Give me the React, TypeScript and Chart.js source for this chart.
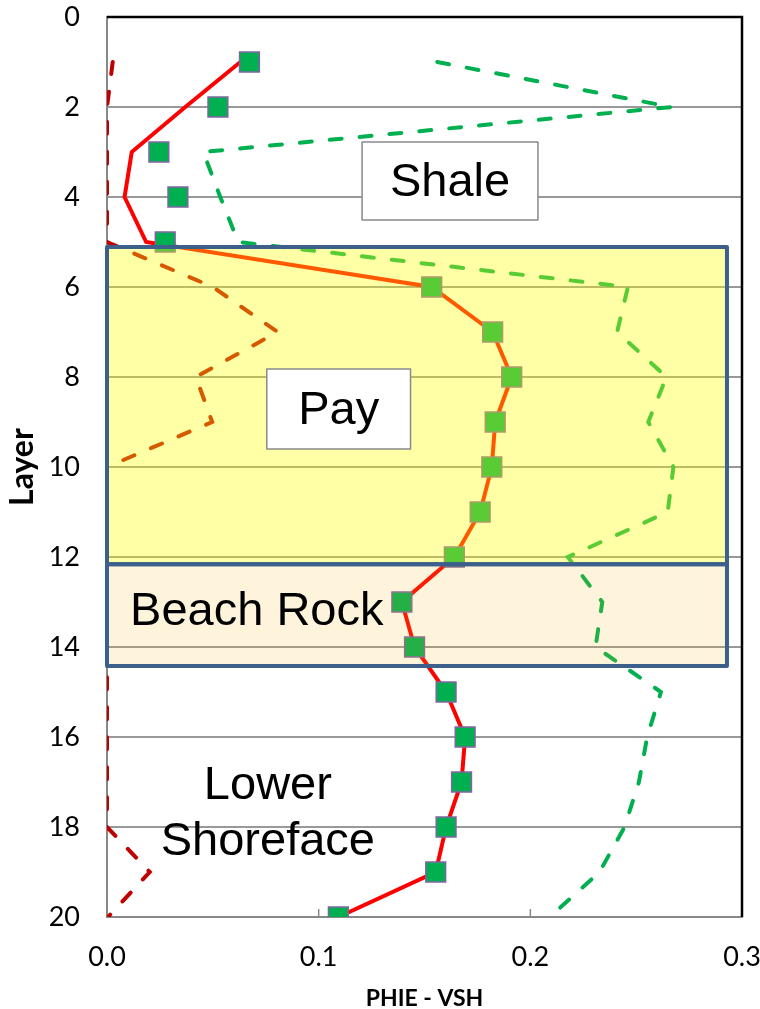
import React, { useEffect, useRef } from 'react';
import { Chart, registerables } from 'chart.js';

Chart.register(...registerables);

// ---- data ----
const LAYERS = [1, 2, 3, 4, 5, 6, 7, 8, 9, 10, 11, 12, 13, 14, 15, 16, 17, 18, 19, 20];
// PHIE per layer (square markers)
const PHIE_POINTS = [0.0673, 0.0524, 0.0245, 0.0335, 0.0275, 0.1534, 0.1822, 0.1912, 0.1834, 0.1818, 0.1763, 0.1641, 0.1393, 0.1453, 0.1602, 0.1692, 0.1675, 0.1602, 0.1553, 0.1093];
// PHIE curve (solid red)
const PHIE_CURVE = [0.063, 0.037, 0.0117, 0.0083, 0.0185, 0.1534, 0.1822, 0.1912, 0.1834, 0.1818, 0.1763, 0.1641, 0.1393, 0.1453, 0.1602, 0.1692, 0.1675, 0.1602, 0.1553, 0.1093];
// green dashed curve
const VSH_CURVE = [0.156, 0.2667, 0.0455, 0.0535, 0.062, 0.2461, 0.241, 0.2643, 0.2557, 0.2676, 0.2649, 0.2177, 0.234, 0.2308, 0.2617, 0.2552, 0.2513, 0.2445, 0.2327, 0.2092];
// dark red dashed curve
const RED_DASH_CURVE = [0.0027, 0, 0, 0, 0, 0.05, 0.0806, 0.042, 0.0497, 0, 0, 0, 0, 0, 0, 0, 0, 0, 0.0202, 0.0005];

const X_TICK_VALUES = [0, 0.1, 0.2, 0.3];
const Y_TICK_VALUES = [0, 2, 4, 6, 8, 10, 12, 14, 16, 18, 20];

// zones (layer ranges)
const ZONE_NAMES = ['Pay', 'Beach Rock'];
const ZONE_TOPS = [5.11, 12.16];
const ZONE_BASES = [12.16, 14.42];
const ZONE_FILLS = ['rgba(255,255,0,0.35)', 'rgba(248,182,22,0.15)'];
const ZONE_RIGHT = 0.2929;

// label annotations
const BOXED_LABELS = [
  { text: 'Shale', x0: 0.1205, x1: 0.2036, y0: 2.78, y1: 4.51 },
  { text: 'Pay', x0: 0.0755, x1: 0.1434, y0: 7.82, y1: 9.6 },
];
const PLAIN_LABELS = [
  { text: 'Beach Rock', x: 0.0109, y: 13.17, align: 'left' },
  { text: 'Lower', x: 0.076, y: 17.05, align: 'center' },
  { text: 'Shoreface', x: 0.076, y: 18.3, align: 'center' },
];

const toPts = (xs: number[]) => xs.map((v, i) => ({ x: v, y: LAYERS[i] }));

const noScalePadding = (s: any) => {
  s.paddingLeft = 0;
  s.paddingRight = 0;
  s.paddingTop = 0;
  s.paddingBottom = 0;
};

const overlayPlugin = {
  id: 'overlayPlugin',
  afterDatasetsDraw(chart: any) {
    const { ctx, chartArea, scales } = chart;
    const xs = scales.x;
    const ys = scales.y;
    ctx.save();
    // zone fills
    ZONE_NAMES.forEach((_, i) => {
      const l = xs.getPixelForValue(0);
      const r = xs.getPixelForValue(ZONE_RIGHT);
      const t = ys.getPixelForValue(ZONE_TOPS[i]);
      const b = ys.getPixelForValue(ZONE_BASES[i]);
      ctx.fillStyle = ZONE_FILLS[i];
      ctx.fillRect(l, t, r - l, b - t);
    });
    ctx.strokeStyle = '#3C5F8C';
    ctx.lineWidth = 4;
    ctx.lineJoin = 'round';
    ZONE_NAMES.forEach((_, i) => {
      const l = xs.getPixelForValue(0);
      const r = xs.getPixelForValue(ZONE_RIGHT);
      const t = ys.getPixelForValue(ZONE_TOPS[i]);
      const b = ys.getPixelForValue(ZONE_BASES[i]);
      ctx.strokeRect(l, t, r - l, b - t);
    });
    // boxed labels
    ctx.font = '47px "Liberation Sans", Arial, sans-serif';
    ctx.textBaseline = 'middle';
    BOXED_LABELS.forEach((lb) => {
      const l = xs.getPixelForValue(lb.x0);
      const r = xs.getPixelForValue(lb.x1);
      const t = ys.getPixelForValue(lb.y0);
      const b = ys.getPixelForValue(lb.y1);
      ctx.fillStyle = '#ffffff';
      ctx.fillRect(l, t, r - l, b - t);
      ctx.strokeStyle = '#8a8a8a';
      ctx.lineWidth = 1.5;
      ctx.strokeRect(l, t, r - l, b - t);
      ctx.fillStyle = '#000000';
      ctx.textAlign = 'center';
      ctx.fillText(lb.text, (l + r) / 2, (t + b) / 2 + 2);
    });
    PLAIN_LABELS.forEach((lb) => {
      ctx.fillStyle = '#000000';
      ctx.textAlign = lb.align as CanvasTextAlign;
      ctx.fillText(lb.text, xs.getPixelForValue(lb.x), ys.getPixelForValue(lb.y) + 2);
    });
    // top & right frame
    ctx.strokeStyle = '#000000';
    ctx.lineWidth = 2.5;
    ctx.lineJoin = 'miter';
    ctx.beginPath();
    ctx.moveTo(chartArea.left, chartArea.top);
    ctx.lineTo(chartArea.right, chartArea.top);
    ctx.lineTo(chartArea.right, chartArea.bottom);
    ctx.stroke();
    // inner tick marks on x axis
    ctx.strokeStyle = '#888888';
    ctx.lineWidth = 1.5;
    X_TICK_VALUES.slice(1, -1).forEach((v) => {
      const px = xs.getPixelForValue(v);
      ctx.beginPath();
      ctx.moveTo(px, chartArea.bottom);
      ctx.lineTo(px, chartArea.bottom - 8);
      ctx.stroke();
    });
    ctx.restore();
  },
};

export default function App() {
  const canvasRef = useRef<HTMLCanvasElement | null>(null);

  useEffect(() => {
    if (!canvasRef.current) return;
    const tickFont = { family: 'Lato, "Open Sans", sans-serif', size: 27 };
    const chart = new Chart(canvasRef.current, {
      type: 'scatter',
      data: {
        datasets: [
          {
            label: 'PHIE points',
            data: toPts(PHIE_POINTS),
            showLine: false,
            pointStyle: 'rect',
            pointRadius: 14,
            pointBackgroundColor: '#00B050',
            pointBorderColor: '#8064A2',
            pointBorderWidth: 1.5,
          },
          {
            label: 'PHIE',
            data: toPts(PHIE_CURVE),
            showLine: true,
            borderColor: '#FF0000',
            borderWidth: 4,
            pointRadius: 0,
            tension: 0,
          },
          {
            label: 'VSH',
            data: toPts(VSH_CURVE),
            showLine: true,
            borderColor: '#00B050',
            borderWidth: 4,
            borderDash: [12, 18],
            borderCapStyle: 'round',
            pointRadius: 0,
            tension: 0,
          },
          {
            label: 'Other',
            data: toPts(RED_DASH_CURVE),
            showLine: true,
            borderColor: '#C00000',
            borderWidth: 4,
            borderDash: [12, 18],
            borderCapStyle: 'round',
            pointRadius: 0,
            tension: 0,
          },
        ],
      } as any,
      options: {
        animation: false,
        responsive: false,
        devicePixelRatio: 1,
        layout: { padding: { left: 0, right: 18, top: 17, bottom: 0 } },
        plugins: { legend: { display: false }, tooltip: { enabled: false } },
        scales: {
          x: {
            type: 'linear',
            min: 0,
            max: 0.3,
            afterFit: (s: any) => { s.height = 92; noScalePadding(s); },
            afterBuildTicks: (s: any) => { s.ticks = X_TICK_VALUES.map((v) => ({ value: v })); },
            ticks: {
              color: '#000',
              font: tickFont,
              padding: 24,
              maxRotation: 0,
              callback: (v: any) => Number(v).toFixed(1),
            },
            grid: { display: false, drawTicks: false },
            border: { display: true, color: '#888888', width: 2 },
            title: {
              display: true,
              text: 'PHIE - VSH',
              color: '#000',
              font: { family: 'Lato, "Open Sans", sans-serif', size: 23, weight: 'bold' },
              padding: { top: 0, bottom: -3 },
            },
          },
          y: {
            type: 'linear',
            reverse: true,
            min: 0,
            max: 20,
            afterFit: (s: any) => { s.width = 107; noScalePadding(s); },
            afterBuildTicks: (s: any) => { s.ticks = Y_TICK_VALUES.map((v) => ({ value: v })); },
            ticks: {
              color: '#000',
              font: tickFont,
              padding: 27,
            },
            grid: { color: '#999999', lineWidth: 2, drawTicks: false },
            border: { display: true, color: '#888888', width: 2 },
            title: {
              display: true,
              text: 'Layer',
              color: '#000',
              font: { family: 'Lato, "Open Sans", sans-serif', size: 32, weight: 'bold' },
              padding: { top: 3, bottom: 0 },
            },
          },
        },
      } as any,
      plugins: [overlayPlugin],
    });
    return () => chart.destroy();
  }, []);

  return (
    <div style={{ position: 'absolute', left: 0, top: 0, width: 760, height: 1009, background: '#fff' }}>
      <canvas ref={canvasRef} width={760} height={1009} style={{ display: 'block', width: 760, height: 1009 }} />
    </div>
  );
}
